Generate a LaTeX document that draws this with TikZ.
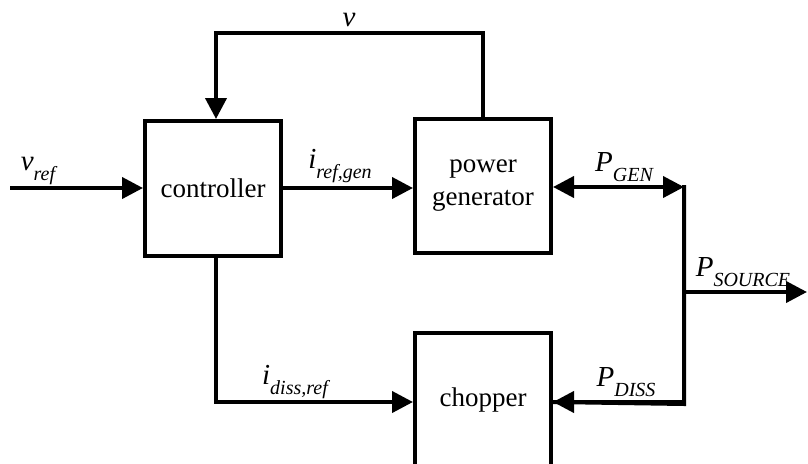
\documentclass[tikz,border=0pt]{standalone}
\usepackage{fontspec}
\IfFontExistsTF{Liberation Serif}{\setmainfont{Liberation Serif}}{\setmainfont{DejaVu Serif}}
\usetikzlibrary{arrows.meta}
\newcommand\mylbl[2]{{\itshape #1}\raisebox{-0.32em}{\fontsize{20}{20}\selectfont\itshape #2}}
\tikzset{
  blk/.style={draw, line width=4pt, minimum width=136pt, minimum height=134pt, inner sep=0pt, align=center, font=\fontsize{27}{33}\selectfont},
  conn/.style={line width=4pt, line join=miter},
  tip/.style={-{Triangle[length=21pt,width=21pt]}},
  lab/.style={font=\fontsize{29}{30}\selectfont, inner sep=0pt}
}
\begin{document}
\begin{tikzpicture}[x=1pt,y=-1pt]
\useasboundingbox (0,0) rectangle (808,463);
\node[blk, minimum height=135pt] (ctrl) at (213,188.5) {controller};
\node[blk] (pg) at (483,186) {power\\generator};
\node[blk] (ch) at (483,400) {chopper};
\coordinate (vin) at (10,188);
\coordinate (fbL) at (216,33);
\coordinate (fbR) at (483,33);
\coordinate (dn) at (216,402);
\coordinate (jT) at (684,187);
\coordinate (jB) at (684,402);
\coordinate (jM) at (684,292);
\coordinate (out) at (807,292);
% arrows
\draw[conn,tip] (vin) -- (vin -| ctrl.west);
\draw[conn,tip] (ctrl.east |- vin) -- (vin -| pg.west);
\draw[conn,tip] (pg.north) -- (fbR) -- (fbL) -- (fbL |- ctrl.north);
\draw[conn,tip] (fbL |- ctrl.south) -- (dn) -- (dn -| ch.west);
\draw[conn,{Triangle[length=21pt,width=21pt]}-{Triangle[length=21pt,width=21pt]}] (pg.east |- jT) -- (jT);
\draw[conn] ([yshift=2pt]jT) -- ([yshift=-2pt]jB) -- (jB -| ch.east);
\draw[conn,tip] (jB) -- (jB -| ch.east);
\draw[conn,tip] (jM) -- (out);
% labels
\node[lab] (lv) at (349,20) {\itshape v};
\node[lab] (lvref) at (38,171) {\mylbl{v}{ref}};
\node[lab] (lirg) at (340,166) {\mylbl{i}{ref,gen}};
\node[lab] (lpg) at (624,167) {\mylbl{P}{GEN}};
\node[lab] (lps) at (743,272) {\mylbl{P}{SOURCE}};
\node[lab] (lpd) at (626,382) {\mylbl{P}{DISS}};
\node[lab] (lidr) at (295,382) {\mylbl{i}{diss,ref}};
\end{tikzpicture}
\end{document}
